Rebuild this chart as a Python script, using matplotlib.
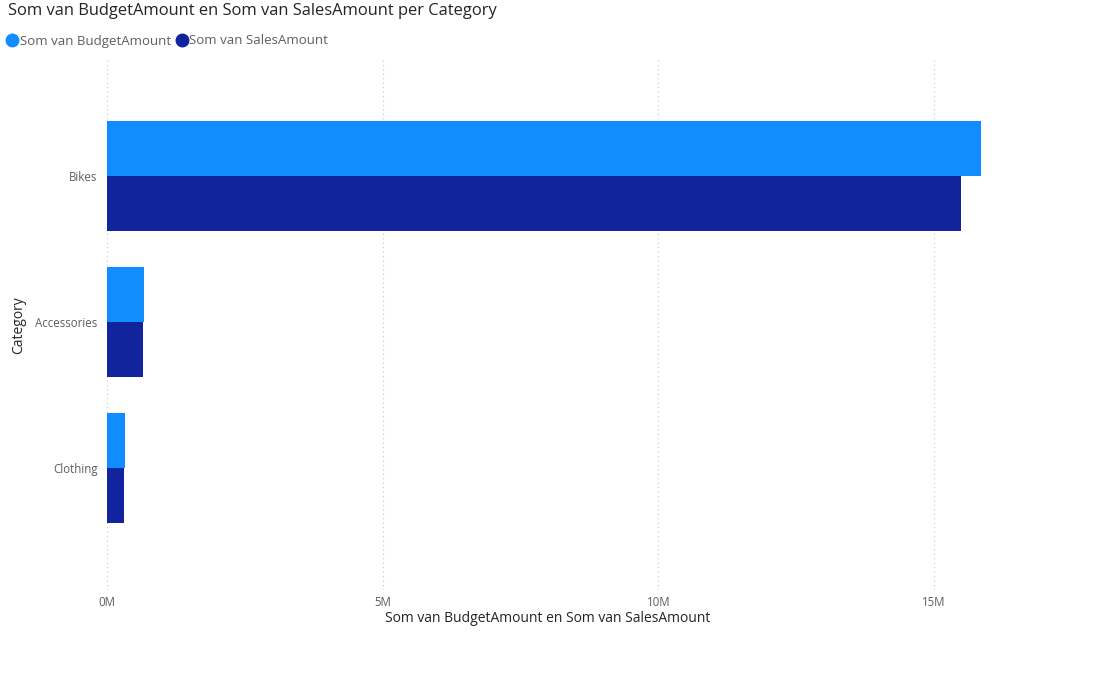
import matplotlib.pyplot as plt
import numpy as np
from matplotlib.lines import Line2D
from matplotlib.ticker import FuncFormatter

# data (in millions)
categories = ["Bikes", "Accessories", "Clothing"]
budget = [15.85, 0.68, 0.33]
sales = [15.49, 0.66, 0.31]
x_ticks = [0, 5, 10, 15]

budget_color = "#118DFF"
sales_color = "#12239E"
text_grey = "#605E5C"
text_dark = "#252423"

plt.rcParams['font.family'] = ['Open Sans', 'DejaVu Sans']

fig = plt.figure(figsize=(10.95, 6.99), dpi=100)
ax = fig.add_axes([107 / 1095, 109 / 699, 976 / 1095, 530 / 699])

# bars
y = np.arange(len(categories))
h = 0.377
ax.barh(y - h / 2, budget, height=h, color=budget_color)
ax.barh(y + h / 2, sales, height=h, color=sales_color)

ax.set_xlim(0, 17.7)
ax.set_ylim(2.836, -0.795)

# axes look
for s in ax.spines.values():
    s.set_visible(False)
ax.set_xticks(x_ticks)
ax.xaxis.set_major_formatter(FuncFormatter(lambda v, p: f"{v:.0f}M"))
ax.set_yticks(y)
ax.set_yticklabels(categories)
ax.tick_params(axis='both', length=0, labelsize=8.3, labelcolor=text_grey)
ax.tick_params(axis='y', pad=7)
ax.tick_params(axis='x', pad=4)
ax.grid(axis='x', color="#C8C6C4", linestyle=(0, (1, 3)), linewidth=0.8)
ax.set_axisbelow(True)

ax.set_xlabel("Som van BudgetAmount en Som van SalesAmount", fontsize=10, color=text_dark)
ax.xaxis.set_label_coords(0.452, -0.039)
ax.set_ylabel("Category", fontsize=10, color=text_dark)
ax.yaxis.set_label_coords(-0.083, 0.5)

# title
fig.text(8 / 1095, 1 - 11 / 699, "Som van BudgetAmount en Som van SalesAmount per Category",
         fontsize=11.9, color=text_dark, ha='left', va='center')

# legend
handles = [Line2D([0], [0], marker='o', linestyle='', markersize=9, color=budget_color),
           Line2D([0], [0], marker='o', linestyle='', markersize=9, color=sales_color)]
leg = fig.legend(handles, ["Som van BudgetAmount", "Som van SalesAmount"],
                 loc='center left', bbox_to_anchor=(4 / 1095, 1 - 41 / 699), ncol=2,
                 frameon=False, handletextpad=0.0, columnspacing=0.2, handlelength=1.2,
                 fontsize=9.5, borderaxespad=0, borderpad=0)
for t in leg.get_texts():
    t.set_color(text_grey)

fig.savefig("out.png", dpi=100)
